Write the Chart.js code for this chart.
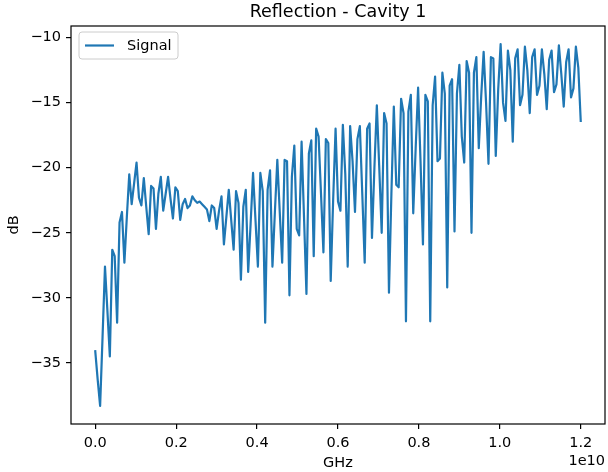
<!DOCTYPE html>
<html>
<head>
<meta charset="utf-8">
<script src="https://cdn.jsdelivr.net/npm/chart.js@4"></script>
<style>
  body { margin: 0; background: #fff; }
  canvas { display: block; }
</style>
</head>
<body>
<canvas id="chart" width="608" height="472"></canvas>
<script>
// frequency axis, in units of 1e10 Hz
const freqStart = 0;
const freqStep = 0.006;

// reflection, dB
const signalDb = [
  -34.1, -36.3, -38.3, -33.0, -27.6, -31.0, -34.5, -26.3, -26.8, -31.9,
  -24.2, -23.4, -27.3, -23.8, -20.5, -22.8, -21.2, -19.6, -22.3, -22.9,
  -20.8, -23.0, -25.1, -21.4, -21.6, -24.7, -22.0, -20.7, -23.3, -22.0,
  -20.7, -22.4, -23.9, -21.5, -21.8, -24.0, -22.8, -22.4, -23.1, -22.9,
  -22.2, -22.5, -22.7, -22.6, -22.8, -23.0, -23.2, -24.1, -22.9, -23.1,
  -24.7, -23.3, -22.2, -25.9, -23.8, -21.7, -24.0, -26.3, -21.8, -22.7,
  -28.6, -23.0, -21.7, -28.0, -24.3, -20.4, -24.0, -27.6, -20.4, -21.8,
  -31.9, -21.7, -20.2, -27.6, -23.4, -19.4, -23.4, -27.3, -19.4, -19.5,
  -29.8, -20.7, -18.3, -24.7, -25.2, -18.0, -23.8, -29.7, -18.9, -17.9,
  -26.8, -17.0, -17.6, -22.0, -26.5, -17.8, -18.1, -28.7, -22.5, -17.0,
  -22.6, -23.3, -16.7, -20.5, -27.6, -16.8, -19.5, -23.4, -17.8, -16.8,
  -22.0, -27.3, -17.0, -16.6, -25.4, -20.0, -15.2, -20.0, -25.0, -15.8,
  -16.6, -29.6, -22.0, -15.3, -21.3, -21.5, -14.7, -15.8, -31.8, -15.7,
  -14.4, -23.5, -18.5, -13.85, -19.5, -25.9, -14.4, -14.9, -31.8, -15.2,
  -13.0, -19.5, -19.3, -12.7, -14.3, -29.2, -13.7, -13.2, -24.9, -14.3,
  -12.1, -17.6, -19.6, -11.8, -12.7, -25.0, -12.7, -11.5, -18.5, -14.5,
  -11.1, -15.0, -19.7, -11.5, -11.6, -19.1, -14.0, -10.5, -15.0, -16.4,
  -11.0, -12.5, -18.0, -11.6, -10.9, -15.2, -14.4, -10.7, -12.5, -15.8,
  -11.5, -10.9, -14.4, -13.7, -10.9, -12.8, -15.5, -11.7, -11.0, -14.2,
  -13.6, -10.6, -12.8, -15.3, -11.9, -10.9, -14.6, -13.9, -10.7, -12.3,
  -16.4
];

const xTicks = [0, 0.2, 0.4, 0.6, 0.8, 1.0, 1.2];
const yTicks = [-35, -30, -25, -20, -15, -10];

const blue = '#1f77b4';
const fontName = 'DejaVu Sans';

function minusLabel(v) {
  return (v < 0 ? '\u2212' : '') + Math.abs(v);
}

// frame, title, offset text and legend, like matplotlib draws them
const decor = {
  id: 'decor',
  afterDraw(chart) {
    const ctx = chart.ctx;
    const a = chart.chartArea;
    ctx.save();

    ctx.strokeStyle = '#000';
    ctx.lineWidth = 1.2;
    ctx.strokeRect(a.left, a.top, a.right - a.left, a.bottom - a.top);

    ctx.fillStyle = '#000';
    ctx.font = '17.5px "' + fontName + '"';
    ctx.textAlign = 'center';
    ctx.textBaseline = 'middle';
    ctx.fillText('Reflection - Cavity 1', (a.left + a.right) / 2, 12);

    ctx.font = '14.5px "' + fontName + '"';
    ctx.textAlign = 'right';
    ctx.fillText('1e10', a.right, 461);

    // legend box
    const bx = 79, by = 32, bw = 99, bh = 27, r = 3;
    ctx.beginPath();
    ctx.roundRect(bx, by, bw, bh, r);
    ctx.fillStyle = 'rgba(255,255,255,0.8)';
    ctx.fill();
    ctx.strokeStyle = '#cccccc';
    ctx.lineWidth = 1;
    ctx.stroke();

    ctx.beginPath();
    ctx.moveTo(85, 45.5);
    ctx.lineTo(114, 45.5);
    ctx.strokeStyle = blue;
    ctx.lineWidth = 2.2;
    ctx.stroke();

    ctx.fillStyle = '#000';
    ctx.textAlign = 'left';
    ctx.fillText('Signal', 127, 46);
    ctx.restore();
  }
};

function signalChart(id) {
  const points = signalDb.map((v, i) => ({ x: freqStart + i * freqStep, y: v }));

  const tickFont = { family: fontName, size: 14.5 };

  const data = {
    datasets: [{
      label: 'Signal',
      data: points,
      borderColor: blue,
      borderWidth: 2.2,
      borderJoinStyle: 'round',
      borderCapStyle: 'square',
      pointRadius: 0,
      tension: 0,
      fill: false
    }]
  };

  const config = {
    type: 'line',
    data: data,
    options: {
      responsive: false,
      animation: false,
      layout: { padding: { top: 26, right: 3, left: 0, bottom: 0 } },
      plugins: {
        legend: { display: false },
        title: { display: false },
        tooltip: { enabled: false }
      },
      scales: {
        x: {
          type: 'linear',
          min: -0.06,
          max: 1.26,
          afterBuildTicks: s => { s.ticks = xTicks.map(v => ({ value: v })); },
          afterFit: s => { s.height = 48; },
          ticks: {
            callback: v => v.toFixed(1),
            font: tickFont,
            color: '#000',
            padding: 6,
            maxRotation: 0,
            autoSkip: false
          },
          grid: { drawOnChartArea: false, tickLength: 5, color: '#000', lineWidth: 1.2 },
          border: { display: false },
          title: {
            display: true,
            text: 'GHz',
            font: tickFont,
            color: '#000',
            padding: { top: 0, bottom: 0 }
          }
        },
        y: {
          type: 'linear',
          min: -39.69,
          max: -9.11,
          afterBuildTicks: s => { s.ticks = yTicks.map(v => ({ value: v })); },
          afterFit: s => { s.width = 71; },
          ticks: {
            callback: minusLabel,
            font: tickFont,
            color: '#000',
            padding: 5,
            autoSkip: false
          },
          grid: { drawOnChartArea: false, tickLength: 5, color: '#000', lineWidth: 1.2 },
          border: { display: false },
          title: {
            display: true,
            text: 'dB',
            font: tickFont,
            color: '#000',
            padding: { top: 6, bottom: 0 }
          }
        }
      }
    },
    plugins: [decor]
  };

  let c = document.getElementById(id).getContext('2d');
  new Chart(c, config);
}

signalChart('chart');
</script>
</body>
</html>
